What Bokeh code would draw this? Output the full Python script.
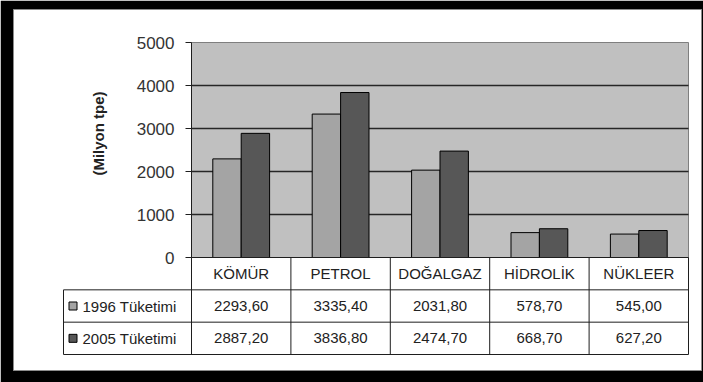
import math

from bokeh.plotting import figure
from bokeh.models import Range1d, ColumnDataSource
from bokeh.core.properties import value
from bokeh.embed import file_html
from bokeh.resources import INLINE

# ---- data -------------------------------------------------------------
categories = ["KÖMÜR", "PETROL", "DOĞALGAZ", "HİDROLİK", "NÜKLEER"]
consumption_1996 = [2293.60, 3335.40, 2031.80, 578.70, 545.00]
consumption_2005 = [2887.20, 3836.80, 2474.70, 668.70, 627.20]
series_names = ["1996  Tüketimi", "2005 Tüketimi"]
y_ticks = [0, 1000, 2000, 3000, 4000, 5000]
y_title = "(Milyon tpe)"

# ---- layout (canvas pixels) -------------------------------------------
CANVAS_W, CANVAS_H = 703, 382
SHEET_L, SHEET_R, SHEET_T, SHEET_B = 13, 701, 9, 370     # white sheet inside black frame
PLOT_L, PLOT_R, PLOT_T, PLOT_B = 191, 688, 42, 257       # grey plot area
TABLE_L, TABLE_B = 63, 354                               # data table below the plot
Y_MAX = y_ticks[-1]

FONT = value("Liberation Sans")
TEXT_COLOR = "#222222"
LINE_COLOR = "#1e1e1e"
PLOT_BG = "#C0C0C0"
SERIES_COLORS = ["#A4A4A4", "#575757"]

n = len(categories)
cat_px = (PLOT_R - PLOT_L) / n            # pixels per category column
val_px = (PLOT_B - PLOT_T) / Y_MAX        # pixels per unit of value
row_px = (TABLE_B - PLOT_B) / 3           # pixels per table row

# x: category units (column i spans i..i+1); y: value units; "rows": table rows (0 at top)
x_range = Range1d((SHEET_L - PLOT_L) / cat_px, (SHEET_R - PLOT_L) / cat_px)
y_range = Range1d(-(SHEET_B - PLOT_B) / val_px, Y_MAX + (PLOT_T - SHEET_T) / val_px)
rows_range = Range1d((SHEET_B - PLOT_B) / row_px, -(PLOT_B - SHEET_T) / row_px)

p = figure(
    width=CANVAS_W, height=CANVAS_H,
    x_range=x_range, y_range=y_range,
    x_axis_type=None, y_axis_type=None,
    toolbar_location=None, output_backend="svg",
    min_border_left=SHEET_L, min_border_right=CANVAS_W - SHEET_R,
    min_border_top=SHEET_T, min_border_bottom=CANVAS_H - SHEET_B,
    border_fill_color="black", background_fill_color="white",
    outline_line_color="#8c8c8c",
)
p.title.visible = False
p.extra_y_ranges = {"rows": rows_range}

# ---- plot area ----------------------------------------------------------
p.quad(left=[0], right=[n], bottom=[0], top=[Y_MAX],
       fill_color=PLOT_BG, line_color="#7f7f7f", line_width=1)

grid_vals = [t for t in y_ticks if 0 < t < Y_MAX]
p.segment(x0=[0] * len(grid_vals), x1=[n] * len(grid_vals), y0=grid_vals, y1=grid_vals,
          line_color="#262626", line_width=1.3)

# ---- bars ---------------------------------------------------------------
bar_w = 1 / 3.5
centers = [i + 0.5 for i in range(n)]
src = ColumnDataSource(dict(
    x1=[c - bar_w / 2 for c in centers],
    x2=[c + bar_w / 2 for c in centers],
    v1=consumption_1996,
    v2=consumption_2005,
))
p.vbar(x="x1", top="v1", bottom=0, width=bar_w, source=src,
       fill_color=SERIES_COLORS[0], line_color="black", line_width=1)
p.vbar(x="x2", top="v2", bottom=0, width=bar_w, source=src,
       fill_color=SERIES_COLORS[1], line_color="black", line_width=1)

# ---- value axis -----------------------------------------------------------
p.segment(x0=[0], x1=[0], y0=[0], y1=[Y_MAX], line_color=LINE_COLOR, line_width=1)
tick_len = 6 / cat_px
p.segment(x0=[-tick_len] * len(y_ticks), x1=[0] * len(y_ticks), y0=y_ticks, y1=y_ticks,
          line_color=LINE_COLOR, line_width=1)
p.text(x=[0] * len(y_ticks), y=y_ticks, text=[str(t) for t in y_ticks],
       x_offset=-17, text_align="right", text_baseline="middle",
       text_font=FONT, text_font_size="17px", text_color="#333333")

title_x = (98 - PLOT_L) / cat_px
title_y = (PLOT_B - 133) / val_px
p.text(x=[title_x], y=[title_y], text=[y_title], angle=math.pi / 2,
       text_align="center", text_baseline="middle",
       text_font=FONT, text_font_size="15px", text_font_style="bold",
       text_color="#222222")

# ---- data table -------------------------------------------------------------
table_left = (TABLE_L - PLOT_L) / cat_px
# horizontal rules
p.segment(x0=[0, table_left, table_left, table_left], x1=[n] * 4,
          y0=[0, 1, 2, 3], y1=[0, 1, 2, 3],
          line_color=LINE_COLOR, line_width=1, y_range_name="rows")
# vertical rules
col_edges = list(range(n + 1))
p.segment(x0=col_edges, x1=col_edges, y0=[0] * len(col_edges), y1=[3] * len(col_edges),
          line_color=LINE_COLOR, line_width=1, y_range_name="rows")
p.segment(x0=[table_left], x1=[table_left], y0=[1], y1=[3],
          line_color=LINE_COLOR, line_width=1, y_range_name="rows")

def fmt(v):
    return f"{v:.2f}".replace(".", ",")

cells = ColumnDataSource(dict(
    x=centers * 3,
    y=[0.5] * n + [1.5] * n + [2.5] * n,
    t=categories + [fmt(v) for v in consumption_1996] + [fmt(v) for v in consumption_2005],
))
p.text(x="x", y="y", text="t", source=cells, y_range_name="rows",
       text_align="center", text_baseline="middle",
       text_font=FONT, text_font_size="15px", text_color=TEXT_COLOR)

# legend keys in the first column
key_x = table_left + 9.5 / cat_px
p.scatter(x=[key_x, key_x], y=[1.5, 2.5], marker="square", size=8,
          fill_color=SERIES_COLORS, line_color="black", line_width=1,
          y_range_name="rows")
p.text(x=[table_left, table_left], y=[1.5, 2.5], text=series_names,
       x_offset=19, text_align="left", text_baseline="middle",
       text_font=FONT, text_font_size="15px", text_color=TEXT_COLOR,
       y_range_name="rows")

open("out.html", "w").write(file_html(p, INLINE))
